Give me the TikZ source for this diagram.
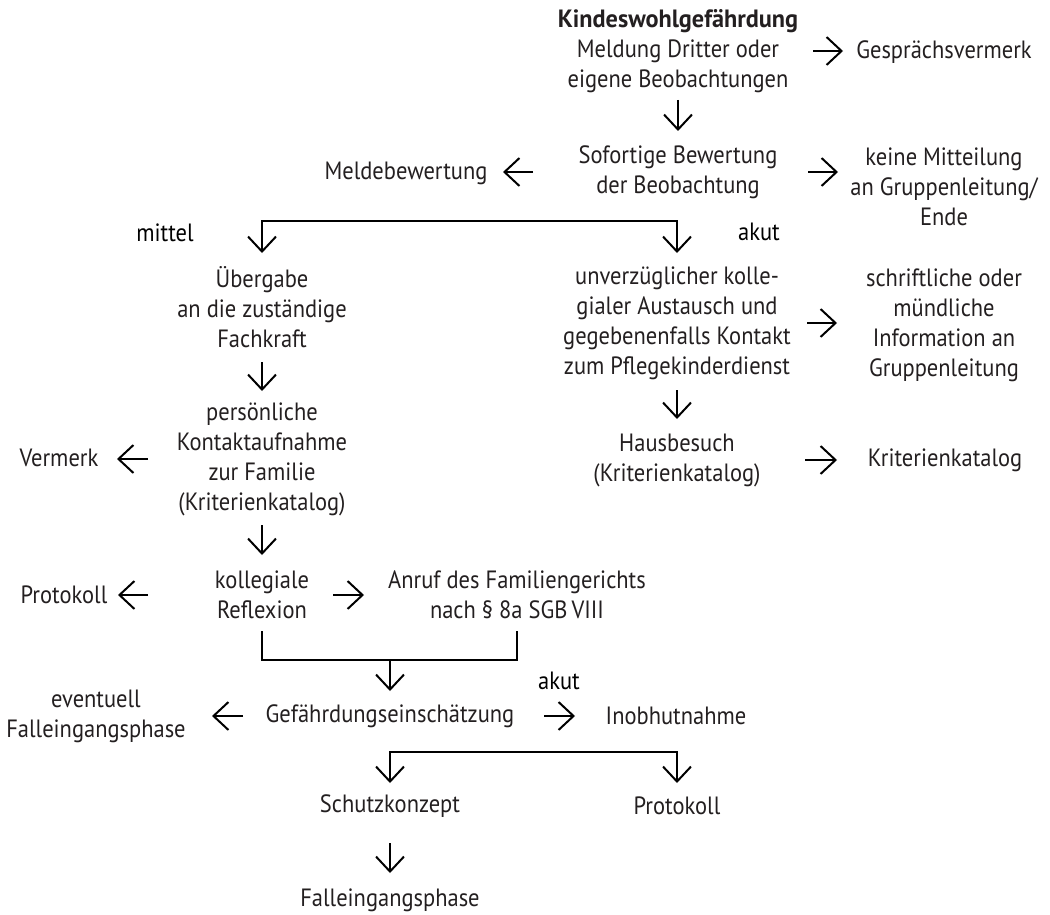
\documentclass[tikz,border=0pt]{standalone}
\usepackage{fontspec}
\setmainfont{PT Sans}[FakeStretch=0.9, BoldFeatures={FakeStretch=0.97}]
\usepackage{xcolor}
\usetikzlibrary{arrows.meta}
\definecolor{ink}{RGB}{35,31,32}
\newcommand{\flowsize}{\fontsize{12.5}{15}\selectfont}

\begin{document}
\begin{tikzpicture}[x=0.5pt, y=-0.5pt,
    txt/.style={align=center, inner sep=0pt, font=\flowsize, text=ink},
    lbl/.style={inner sep=0pt, font=\flowsize, text=black},
    line/.style={line width=1pt},
    arr/.style={line, -{Straight Barb[length=7.5pt, width=14pt]}},
    twoarr/.style={line, {Straight Barb[length=7.5pt, width=14pt]}-{Straight Barb[length=7.5pt, width=14pt]}},
    gap/.style 2 args={shorten <=#1*0.5pt, shorten >=#2*0.5pt}]
    \useasboundingbox (0,0) rectangle (1050,915);

    % main column
    \node[txt] (kwg) at (678,51) {\textbf{Kindeswohlgefährdung}\\Meldung Dritter oder\\eigene Beobachtungen};
    \node[txt] (gespr) at (944,52) {Gesprächsvermerk};
    \node[txt] (sofort) at (678,172) {Sofortige Bewertung\\der Beobachtung};
    \node[txt] (melde) at (406,173) {Meldebewertung};
    \node[txt] (keine) at (944,187) {keine Mitteilung\\an Gruppenleitung/\\Ende};
    \node[lbl] (mittel) at (165,233) {mittel};
    \node[lbl] (akut) at (759,232) {akut};

    % branch akut
    \node[txt] (unverz) at (677,323) {unverzüglicher kolle-\\gialer Austausch und\\gegebenenfalls Kontakt\\zum Pflegekinderdienst};
    \node[txt] (schrift) at (944,325) {schriftliche oder\\mündliche\\Information an\\Gruppenleitung};
    \node[txt] (haus) at (677,460) {Hausbesuch\\(Kriterienkatalog)};
    \node[txt] (kriterien) at (945,460) {Kriterienkatalog};

    % branch mittel
    \node[txt] (uebergabe) at (262,307) {Übergabe\\an die zuständige\\Fachkraft};
    \node[txt] (persoen) at (262,459) {persönliche\\Kontaktaufnahme\\zur Familie\\(Kriterienkatalog)};
    \node[txt] (vermerk) at (59,458) {Vermerk};
    \node[txt] (koll) at (262,595) {kollegiale\\Reflexion};
    \node[txt] (protA) at (64,595) {Protokoll};
    \node[txt] (anruf) at (517,595) {Anruf des Familiengerichts\\nach § 8a SGB\,VIII};

    % assessment
    \coordinate (join) at (390,660);
    \node[txt] (gef) at (390,716) {Gefährdungseinschätzung};
    \node[txt] (evt) at (96,716) {eventuell\\Falleingangsphase};
    \node[lbl] (akutB) at (559,681) {akut};
    \node[txt] (inob) at (676,716) {Inobhutnahme};
    \node[txt] (schutz) at (390,806) {Schutzkonzept};
    \node[txt] (protB) at (677,806) {Protokoll};
    \node[txt] (fallein) at (390,900) {Falleingangsphase};
    \coordinate (splitA) at (470,221);
    \coordinate (splitB) at (533,752);

    % connectors
    \draw[arr, gap={135}{101}] (kwg.center) -- (kwg.center -| gespr.center);
    \draw[arr, gap={49}{41}] (kwg.center) -- (kwg.center |- sofort.center);
    \draw[arr, gap={130}{106}] (sofort.center) -- (sofort.center -| keine.center);
    \draw[arr, gap={145}{97}] (sofort.center) -- (sofort.center -| melde.center);
    \draw[twoarr, gap={54}{70}] (uebergabe.center) |- (splitA) -| (unverz.center);

    \draw[arr, gap={130}{107}] (unverz.center) -- (unverz.center -| schrift.center);
    \draw[arr, gap={67}{41}] (unverz.center) -- (unverz.center |- haus.center);
    \draw[arr, gap={128}{108}] (haus.center) -- (haus.center -| kriterien.center);

    \draw[arr, gap={55}{68}] (uebergabe.center) -- (uebergabe.center |- persoen.center);
    \draw[arr, gap={114}{58}] (persoen.center) -- (persoen.center -| vermerk.center);
    \draw[arr, gap={66}{40}] (persoen.center) -- (persoen.center |- koll.center);
    \draw[arr, gap={114}{54}] (koll.center) -- (koll.center -| protA.center);
    \draw[arr, gap={71}{153}] (koll.center) -- (koll.center -| anruf.center);
    \draw[line, gap={36}{36}] (koll.center) |- (join) -| (anruf.center);

    \draw[arr, gap={0}{25}] (join) -- (gef.center);
    \draw[arr, gap={147}{116}] (gef.center) -- (gef.center -| evt.center);
    \draw[arr, gap={154}{101}] (gef.center) -- (gef.center -| inob.center);
    \draw[twoarr, gap={23}{23}] (schutz.center) |- (splitB) -| (protB.center);
    \draw[arr, gap={37}{27}] (schutz.center) -- (schutz.center |- fallein.center);
\end{tikzpicture}
\end{document}
